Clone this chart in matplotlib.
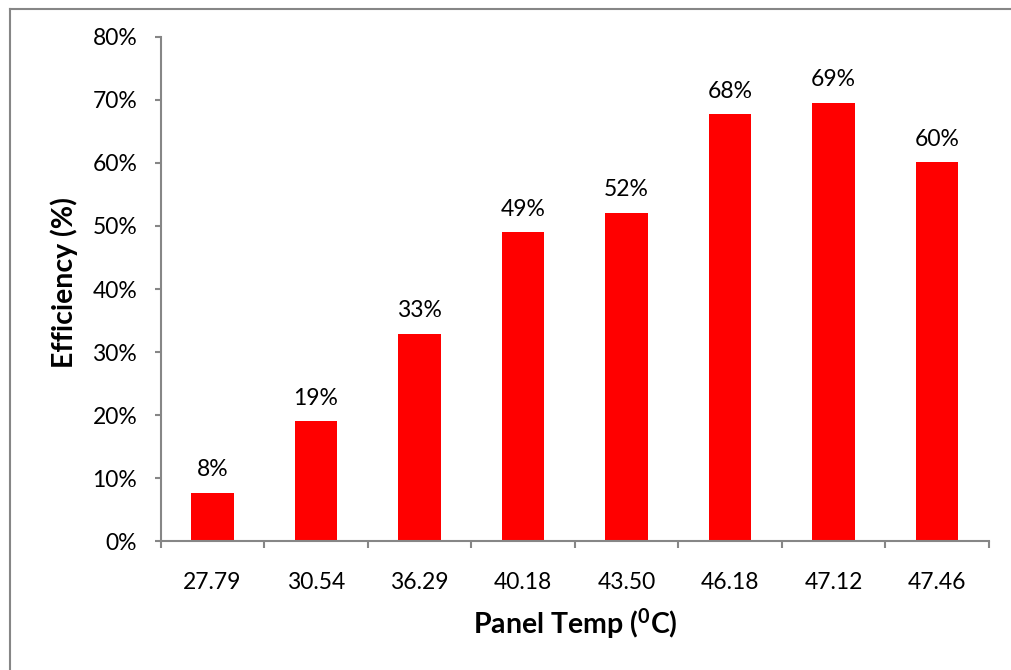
import matplotlib
matplotlib.use("Agg")
import matplotlib.pyplot as plt
from matplotlib.lines import Line2D
import numpy as np

# panel temperature categories and efficiency values
temps = ['27.79', '30.54', '36.29', '40.18', '43.50', '46.18', '47.12', '47.46']
efficiency = [7.6, 19.0, 32.9, 49.0, 52.1, 67.7, 69.6, 60.1]
labels = ['8%', '19%', '33%', '49%', '52%', '68%', '69%', '60%']

plt.rcParams['font.family'] = ['Lato', 'DejaVu Sans']
plt.rcParams['mathtext.fontset'] = 'custom'
plt.rcParams['mathtext.rm'] = 'Lato'
plt.rcParams['mathtext.bf'] = 'Lato:bold'

grey = '#868686'

fig = plt.figure(figsize=(10.11, 6.70), dpi=100)
ax = fig.add_axes([0.159, 0.1925, 0.819, 0.7523])

x = np.arange(len(temps))
bars = ax.bar(x, efficiency, width=0.41, color='#ff0000')

for xi, v, lab in zip(x, efficiency, labels):
    ax.annotate(lab, (xi, v), xytext=(0, 12), textcoords='offset points',
                ha='center', va='baseline', fontsize=16.5)

ax.set_xlim(-0.5, len(temps) - 0.5)
ax.set_ylim(0, 80)
ax.set_yticks(np.arange(0, 81, 10))
ax.set_yticklabels(['%d%%' % t for t in range(0, 81, 10)], fontsize=16.5)
ax.set_xticks(x)
ax.set_xticklabels(temps, fontsize=16.5)
ax.set_xticks(np.arange(-0.5, len(temps)), minor=True)

ax.tick_params(axis='x', which='major', length=0, pad=22)
ax.tick_params(axis='x', which='minor', length=5, width=1.5, color=grey)
ax.tick_params(axis='y', length=4, width=1.5, color=grey, pad=13)

for s in ['top', 'right']:
    ax.spines[s].set_visible(False)
for s in ['left', 'bottom']:
    ax.spines[s].set_color(grey)
    ax.spines[s].set_linewidth(1.5)

# axis titles
fig.text(575 / 1011, 1 - 634 / 670, r'Panel Temp ($\mathbf{^0}$C)', fontsize=20.5,
         fontweight='bold', ha='center', va='baseline')
fig.text(73 / 1011, 1 - 282.5 / 670, 'Efficiency (%)', fontsize=20.5,
         fontweight='bold', rotation=90, rotation_mode='anchor',
         ha='center', va='baseline')

# outer frame (top and left edges visible)
fig.add_artist(Line2D([10 / 1011, 10 / 1011], [0, 1 - 9 / 670], color=grey, lw=1.5))
fig.add_artist(Line2D([10 / 1011, 1], [1 - 9 / 670, 1 - 9 / 670], color=grey, lw=1.5))

fig.savefig('out.png', dpi=100)
